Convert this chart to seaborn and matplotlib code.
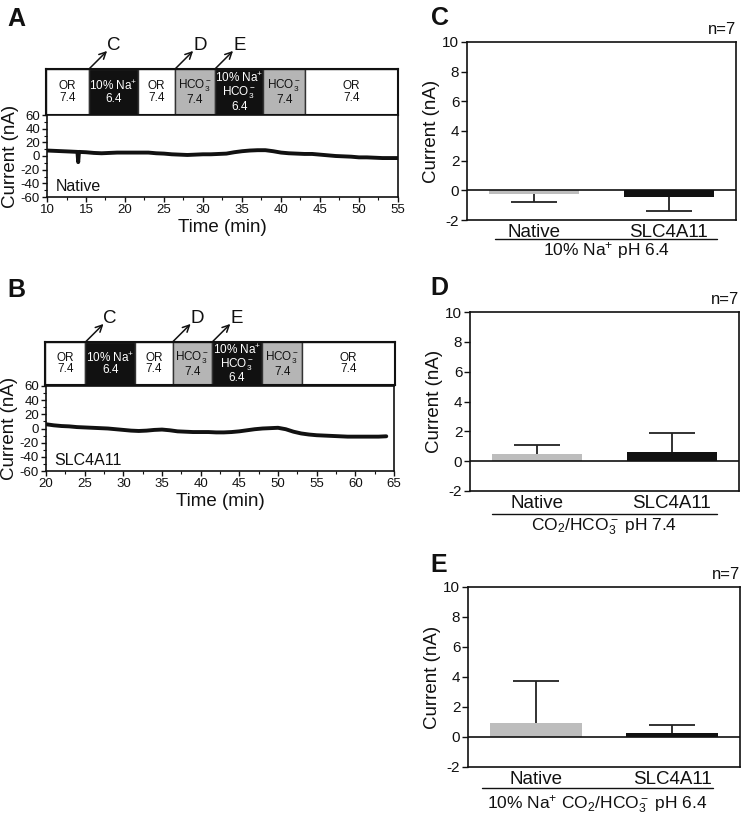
import numpy as np
import pandas as pd
import matplotlib
matplotlib.use("Agg")
import matplotlib.pyplot as plt
import seaborn as sns
from matplotlib.ticker import MultipleLocator

sns.set_theme(style="ticks")
plt.rcParams['font.family'] = ['Liberation Sans', 'DejaVu Sans']
plt.rcParams['mathtext.fontset'] = 'custom'
plt.rcParams['mathtext.rm'] = 'Liberation Sans'
plt.rcParams['mathtext.it'] = 'Liberation Sans:italic'
plt.rcParams['mathtext.bf'] = 'Liberation Sans:bold'
plt.rcParams['axes.unicode_minus'] = False

# ---- data ----
# trace A (Native oocyte)
time_a = [10, 11, 12, 13, 13.9, 14.0, 14.1, 15, 16, 17, 18, 19, 20, 21, 22, 23, 24, 25,
          26, 27, 28, 29, 30, 31, 32, 33, 34, 35, 36, 37, 38, 39, 40, 41, 42, 43,
          44, 45, 46, 47, 48, 49, 50, 51, 52, 53, 54, 55]
current_a = [8, 7.5, 7, 6.5, 6, -9, 6, 5.5, 4.5, 4, 4.5, 5, 5, 5, 5, 5, 4, 3.5,
             2.5, 2, 1.5, 2, 2.5, 2.5, 3, 3.5, 5.5, 7, 8, 8.5, 8.5, 7, 5, 4, 3.5, 3,
             3, 2, 1, 0, -0.5, -1, -2, -2, -2.5, -3, -3, -3]

# trace B (SLC4A11 oocyte)
time_b = [20, 21, 22, 23, 24, 25, 26, 27, 28, 29, 30, 31, 32, 33, 34, 35, 36, 37, 38,
          39, 40, 41, 42, 43, 44, 45, 46, 47, 48, 49, 50, 51, 52, 53, 54, 55, 56, 57,
          58, 59, 60, 61, 62, 63, 64]
current_b = [6, 4.5, 3.5, 3, 2, 1.5, 1, 0.5, 0, -1, -2, -3, -3.5, -3, -2, -1.5, -2.5,
             -4, -4.5, -5, -5, -5, -5.5, -5.5, -5, -4, -2.5, -1, 0, 0.5, 1, -1, -4.5,
             -7, -8.5, -9.5, -10, -10.5, -11, -11.5, -11.5, -11.5, -11.5, -11.5, -11]

# solution bar
seg_labels = ["OR\n7.4", "10% Na$^{+}$\n6.4", "OR\n7.4", "HCO$_3^-$\n7.4",
              "10% Na$^{+}$\nHCO$_3^-$\n6.4", "HCO$_3^-$\n7.4", "OR\n7.4"]
seg_kind = ["OR", "Na", "OR", "HCO3", "Na", "HCO3", "OR"]
edges_a = [10, 15.5, 21.7, 26.5, 31.6, 37.8, 43.1, 55]
edges_b = [20, 25.2, 31.6, 36.4, 41.5, 47.9, 53.1, 65]
arrow_letters = ["C", "D", "E"]
arrow_segments = [1, 3, 4]

# bar panels
groups = ["Native", "SLC4A11"]
mean_c = [-0.25, -0.45]
sem_c = [0.52, 0.94]
mean_d = [0.49, 0.6]
sem_d = [0.62, 1.27]
mean_e = [0.96, 0.29]
sem_e = [2.8, 0.49]
cond_c = "10% Na$^{+}$ pH 6.4"
cond_d = "CO$_2$/HCO$_3^-$ pH 7.4"
cond_e = "10% Na$^{+}$ CO$_2$/HCO$_3^-$ pH 6.4"

seg_fill = {"OR": "white", "Na": "#111111", "HCO3": "#b5b5b5"}
seg_text = {"OR": "#111111", "Na": "white", "HCO3": "#111111"}
bar_cols = ["#bdbdbd", "#111111"]

W, H = 742, 819
fig = plt.figure(figsize=(W / 100, H / 100), dpi=100)


def px_axes(x0, y0, x1, y1):
    return fig.add_axes([x0 / W, 1 - y1 / H, (x1 - x0) / W, (y1 - y0) / H])


def solution_bar(ax, edges):
    for i, lab in enumerate(seg_labels):
        k = seg_kind[i]
        ax.barh(0.5, edges[i + 1] - edges[i], left=edges[i], height=1,
                color=seg_fill[k], edgecolor="#333333", linewidth=1.0)
        ax.text((edges[i] + edges[i + 1]) / 2, 0.5, lab, ha="center", va="center",
                fontsize=8.5, color=seg_text[k], linespacing=0.95)
    ax.set_xlim(edges[0], edges[-1])
    ax.set_ylim(0, 1)
    ax.set_xticks([])
    ax.set_yticks([])
    for s in ax.spines.values():
        s.set_linewidth(1.5)
        s.set_color("#111111")
    for letter, si in zip(arrow_letters, arrow_segments):
        x = edges[si]
        ax.annotate("", xy=(x, 1.0), xycoords=("data", "axes fraction"),
                    xytext=(13, 13), textcoords="offset points",
                    arrowprops=dict(arrowstyle="<-", color="#111111", lw=1.1,
                                    shrinkA=0, shrinkB=0))
        ax.annotate(letter, xy=(x, 1.0), xycoords=("data", "axes fraction"),
                    xytext=(13, 11), textcoords="offset points",
                    ha="left", va="bottom", fontsize=13.5, color="#111111")


def trace(ax, t, y, xlim, label):
    sns.lineplot(x=t, y=y, ax=ax, color="#111111", linewidth=2.8)
    ax.set_xlim(*xlim)
    ax.set_ylim(-60, 60)
    ax.yaxis.set_major_locator(MultipleLocator(20))
    ax.yaxis.set_minor_locator(MultipleLocator(10))
    ax.xaxis.set_major_locator(MultipleLocator(5))
    ax.xaxis.set_minor_locator(MultipleLocator(2.5))
    ax.tick_params(which="major", length=3.5, width=1, labelsize=9.5, pad=1.5,
                   color="#111111", labelcolor="#111111")
    ax.tick_params(which="minor", length=2, width=0.8, color="#111111")
    ax.set_xlabel("Time (min)", fontsize=13.5, labelpad=2, color="#111111")
    ax.set_ylabel("Current (nA)", fontsize=13.5, labelpad=1, color="#111111")
    for s in ax.spines.values():
        s.set_linewidth(1.2)
        s.set_color("#111111")
    ax.text(0.025, 0.04, label, transform=ax.transAxes, fontsize=11.5,
            ha="left", va="bottom", color="#111111")


def bars(ax, means, sems, cond, line_y, line_x, cond_y):
    df = pd.DataFrame({"group": groups, "current": means})
    sns.barplot(data=df, x="group", y="current", hue="group", palette=bar_cols,
                width=0.67, errorbar=None, legend=False, ax=ax, linewidth=0)
    for i, (m, s) in enumerate(zip(means, sems)):
        end = m - s if m < 0 else m + s
        ax.vlines(i, m, end, color="#222222", lw=1.3)
        ax.hlines(end, i - 0.17, i + 0.17, color="#222222", lw=1.3)
    ax.axhline(0, color="#111111", lw=1.2)
    ax.set_xlim(-0.5, 1.5)
    ax.set_ylim(-2, 10)
    ax.set_yticks(range(-2, 11, 2))
    ax.set_xlabel("")
    ax.set_ylabel("Current (nA)", fontsize=13.5, labelpad=2, color="#111111")
    ax.tick_params(axis="y", length=4, width=1, labelsize=11, pad=1.5,
                   color="#111111", labelcolor="#111111")
    ax.tick_params(axis="x", length=0, labelsize=13.5, pad=3, labelcolor="#111111")
    for s in ax.spines.values():
        s.set_visible(True)
        s.set_linewidth(1.2)
        s.set_color("#111111")
    ax.text(1.0, 1.03, "n=7", transform=ax.transAxes, ha="right", va="bottom",
            fontsize=12, color="#111111")
    ax.plot(line_x, [line_y, line_y], transform=ax.transAxes, clip_on=False,
            color="#111111", lw=1.0)
    ax.text(np.mean(line_x), cond_y, cond, transform=ax.transAxes, ha="center",
            va="center", fontsize=12.5, color="#111111")


# panel A
ax_bar_a = px_axes(46, 69, 398, 115)
solution_bar(ax_bar_a, edges_a)
ax_a = px_axes(47, 115, 398, 197)
trace(ax_a, time_a, current_a, (10, 55), "Native")

# panel B
ax_bar_b = px_axes(45, 342, 395, 385)
solution_bar(ax_bar_b, edges_b)
ax_b = px_axes(46, 386, 394, 471)
trace(ax_b, time_b, current_b, (20, 65), "SLC4A11")

# panels C, D, E
ax_c = px_axes(467, 42, 736, 220)
bars(ax_c, mean_c, sem_c, cond_c, -0.107, [0.104, 0.93], -0.17)
ax_d = px_axes(470, 312, 739, 491)
bars(ax_d, mean_d, sem_d, cond_d, -0.128, [0.08, 0.92], -0.2)
ax_e = px_axes(468, 587, 740, 767)
bars(ax_e, mean_e, sem_e, cond_e, -0.117, [0.05, 0.9], -0.21)

# panel letters
for letter, x, y in [("A", 7, 26), ("B", 7, 297), ("C", 431, 25),
                     ("D", 430, 295), ("E", 430, 572)]:
    fig.text(x / W, 1 - y / H, letter, fontsize=18, fontweight="bold",
             ha="left", va="baseline", color="#111111")

fig.savefig("out.png", dpi=100)
